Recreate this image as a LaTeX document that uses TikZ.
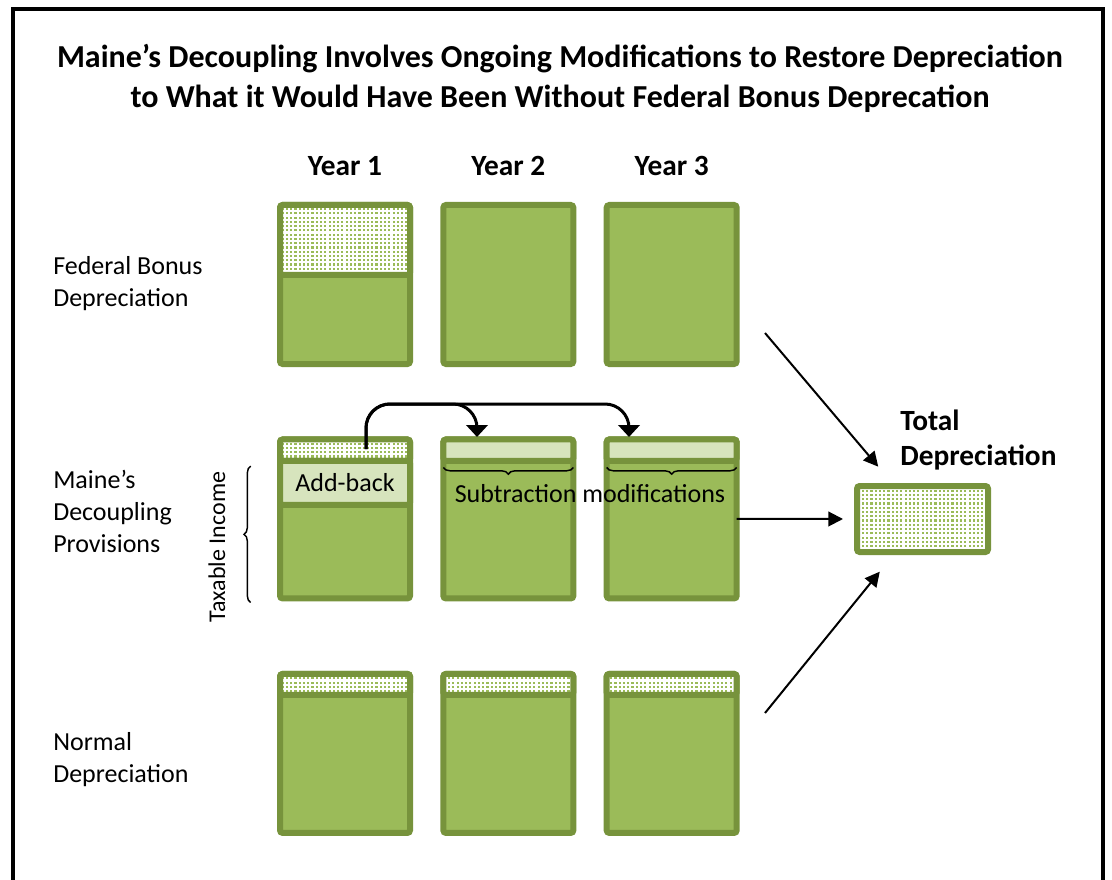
\documentclass[tikz,border=0pt]{standalone}
\usepackage{fontspec}
\setmainfont{Carlito}
\usetikzlibrary{arrows.meta, positioning, calc, patterns, decorations.pathreplacing}
\definecolor{bark}{HTML}{77933C}
\definecolor{leaf}{HTML}{9BBB59}
\definecolor{pale}{HTML}{D7E4BD}
\pgfdeclarepatternformonly{speckle}{\pgfqpoint{-1pt}{-1pt}}{\pgfqpoint{3pt}{3pt}}{\pgfqpoint{3.2pt}{3.2pt}}{%
  \pgfpathrectangle{\pgfqpoint{0pt}{0pt}}{\pgfqpoint{1.6pt}{1.6pt}}\pgfusepath{fill}}
\tikzset{
    slab/.style={rectangle, draw=bark, fill=leaf, line width=4.5pt, rounded corners=2pt, minimum width=97.5pt, minimum height=119.25pt, inner sep=0pt, outer sep=0pt},
    dotband/.style={rectangle, draw=bark, line width=4.5pt, rounded corners=2pt, preaction={fill=white}, pattern=speckle, pattern color=leaf, minimum width=97.5pt, inner sep=0pt, outer sep=0pt, anchor=north},
    paleband/.style={rectangle, draw=bark, fill=pale, line width=4.5pt, rounded corners=2pt, minimum width=97.5pt, inner sep=0pt, outer sep=0pt, anchor=north},
    totalbox/.style={rectangle, draw=bark, line width=4.5pt, rounded corners=2pt, preaction={fill=white}, pattern=speckle, pattern color=leaf, minimum width=98.25pt, minimum height=49.5pt, inner sep=0pt, outer sep=0pt},
    head/.style={font=\bfseries\fontsize{22}{26}\selectfont, inner sep=0pt},
    rowlabel/.style={anchor=west, align=left, inner sep=0pt, font=\fontsize{19.5}{24}\selectfont},
    arrow/.style={-{Triangle[length=11pt, width=11pt]}, line width=1.5pt},
    carry/.style={-{Triangle[length=9pt, width=16pt]}, line width=2.25pt, rounded corners=18pt},
    curly/.style={decorate, decoration={brace, amplitude=5pt}, line width=1.1pt},
    curlydown/.style={decorate, decoration={brace, mirror, amplitude=5pt}, line width=1.1pt},
}
\begin{document}
\begin{tikzpicture}[x=0.75pt, y=-0.75pt, font=\fontsize{19.5}{24}\selectfont]
    \useasboundingbox (0,0) rectangle (1112,880);
    \draw[line width=3pt] (13,9) rectangle (1103,886);

    % Title
    \node[align=center, font=\bfseries\fontsize{24}{30}\selectfont] (title) at (560,78)
        {Maine’s Decoupling Involves Ongoing Modifications to Restore Depreciation\\to What it Would Have Been Without Federal Bonus Deprecation};

    % Federal bonus row
    \node[slab] (fb1) at (345,284.5) {};
    \node[slab, right=25pt of fb1] (fb2) {};
    \node[slab, right=25pt of fb2] (fb3) {};
    \node[dotband, minimum height=52.5pt] (fbtop1) at (fb1.north) {};

    % Decoupling row
    \node[slab, below=56.6pt of fb1] (md1) {};
    \node[slab, right=25pt of md1] (md2) {};
    \node[slab, right=25pt of md2] (md3) {};
    \node[dotband, minimum height=16pt] (mdtop1) at (md1.north) {};
    \node[paleband, below=0pt of mdtop1, minimum height=33pt] (addback) {Add-back};
    \node[paleband, minimum height=16pt] (mdtop2) at (md2.north) {};
    \node[paleband, minimum height=16pt] (mdtop3) at (md3.north) {};

    % Normal row
    \node[slab, below=56.6pt of md1] (nd1) {};
    \node[slab, right=25pt of nd1] (nd2) {};
    \node[slab, right=25pt of nd2] (nd3) {};
    \node[dotband, minimum height=15.75pt] (ndtop1) at (nd1.north) {};
    \node[dotband, minimum height=15.75pt] (ndtop2) at (nd2.north) {};
    \node[dotband, minimum height=15.75pt] (ndtop3) at (nd3.north) {};

    % Headers and row labels
    \node[head, above=22pt of fb1] (year1) {Year 1};
    \node[head, above=22pt of fb2] (year2) {Year 2};
    \node[head, above=22pt of fb3] (year3) {Year 3};
    \node[rowlabel] (fblbl) at (53,284) {Federal Bonus\\Depreciation};
    \node[rowlabel] (mdlbl) at (53,511) {Maine’s\\Decoupling\\Provisions};
    \node[rowlabel] (ndlbl) at (53,760) {Normal\\Depreciation};

    % Braces
    \draw[curly] ([xshift=-22pt, yshift=-3pt]md1.south west) -- ([xshift=-22pt, yshift=-4pt]addback.north west);
    \node[rotate=90, font=\fontsize{18}{22}\selectfont] (taxinc) at (217,547) {Taxable Income};
    \draw[curlydown] ([yshift=-5pt]mdtop2.south west) -- ([yshift=-5pt]mdtop2.south east);
    \draw[curlydown] ([yshift=-5pt]mdtop3.south west) -- ([yshift=-5pt]mdtop3.south east);
    \node (submod) at (590,494) {Subtraction modifications};

    % Add-back carried forward
    \coordinate (abtail) at (366,449);
    \coordinate (sub2tip) at (477,437);
    \coordinate (sub3tip) at (629,437);
    \draw[carry] (abtail) |- ($(sub2tip)+(0,-33)$) -- (sub2tip);
    \draw[carry] (abtail) |- ($(sub3tip)+(0,-33)$) -- (sub3tip);

    % Total
    \node[totalbox] (total) at (922.5,519) {};
    \node[head, anchor=west, align=left] (totlbl) at (900,440) {Total\\Depreciation};
    \coordinate (fbtail) at (765,333);
    \coordinate (ndtail) at (765,713);
    \draw[arrow, shorten >=19pt] (fbtail) -- (total);
    \draw[arrow, shorten >=10.5pt] (md3) -- (total);
    \draw[arrow, shorten >=19pt] (ndtail) -- (total);
\end{tikzpicture}
\end{document}
